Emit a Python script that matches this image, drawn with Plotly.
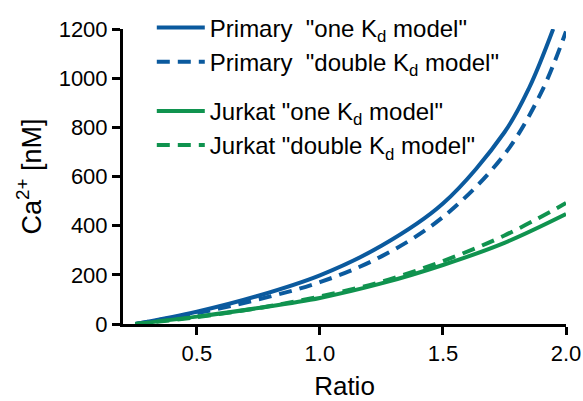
import plotly.graph_objects as go

# Data
ratio_primary_one = [0.25, 0.5, 0.75, 1.0, 1.25, 1.5, 1.75, 1.85, 1.948]
ca_primary_one = [0, 50, 115, 198, 318, 490, 780, 960, 1200]

ratio_primary_double = [0.25, 0.5, 0.75, 1.0, 1.25, 1.5, 1.75, 1.9, 2.0]
ca_primary_double = [0, 44, 100, 170, 275, 435, 690, 943, 1190]

ratio_jurkat_one = [0.25, 0.5, 0.75, 1.0, 1.25, 1.5, 1.75, 2.0]
ca_jurkat_one = [0, 30, 65, 106, 165, 240, 330, 447]

ratio_jurkat_double = [0.25, 0.5, 0.75, 1.0, 1.25, 1.5, 1.75, 2.0]
ca_jurkat_double = [0, 28, 65, 112, 172, 256, 360, 492]

names = [
    'Primary  "one K<sub>d</sub> model"',
    'Primary  "double K<sub>d</sub> model"',
    'Jurkat "one K<sub>d</sub> model"',
    'Jurkat "double K<sub>d</sub> model"',
]
x_ticks = [0.5, 1.0, 1.5, 2.0]
x_tick_labels = ["0.5", "1.0", "1.5", "2.0"]
y_ticks = [0, 200, 400, 600, 800, 1000, 1200]

BLUE = "#0B5A9E"
GREEN = "#10934F"
FONT = "Liberation Sans, Arial"

fig = go.Figure()
series = [
    (ratio_primary_one, ca_primary_one, names[0], BLUE, "solid", "p"),
    (ratio_primary_double, ca_primary_double, names[1], BLUE, "13px,8px", "p"),
    (ratio_jurkat_one, ca_jurkat_one, names[2], GREEN, "solid", "j"),
    (ratio_jurkat_double, ca_jurkat_double, names[3], GREEN, "13px,8px", "j"),
]
for xs, ys, nm, col, dash, grp in series:
    fig.add_trace(go.Scatter(
        x=xs, y=ys, name=nm, mode="lines", legendgroup=grp,
        line=dict(color=col, width=4, dash=dash, shape="spline"),
    ))

axis_common = dict(
    showline=True, linecolor="black", linewidth=3,
    ticks="outside", ticklen=8, tickwidth=3, tickcolor="black",
    showgrid=False, zeroline=False,
    tickfont=dict(family=FONT, size=22, color="black"),
)

fig.update_layout(
    width=583, height=401,
    margin=dict(l=123, r=17, t=29, b=77, autoexpand=False),
    paper_bgcolor="white", plot_bgcolor="white",
    xaxis=dict(range=[0.2, 2.0], tickvals=x_ticks, ticktext=x_tick_labels,
               title=dict(text="Ratio", font=dict(family=FONT, size=26, color="black"), standoff=12),
               **axis_common),
    yaxis=dict(range=[0, 1200], tickvals=y_ticks,
               title=dict(text="Ca<sup>2+</sup> [nM]", font=dict(family=FONT, size=27, color="black"), standoff=10),
               **axis_common),
    legend=dict(
        x=0.065, y=1.08, xanchor="left", yanchor="top",
        bgcolor="rgba(0,0,0,0)", traceorder="grouped", tracegroupgap=15,
        font=dict(family=FONT, size=24, color="black"),
        itemwidth=48,
    ),
    showlegend=True,
)

fig.write_html("out.html", config={"displayModeBar": False},
               post_script="document.body.style.margin='0';")
